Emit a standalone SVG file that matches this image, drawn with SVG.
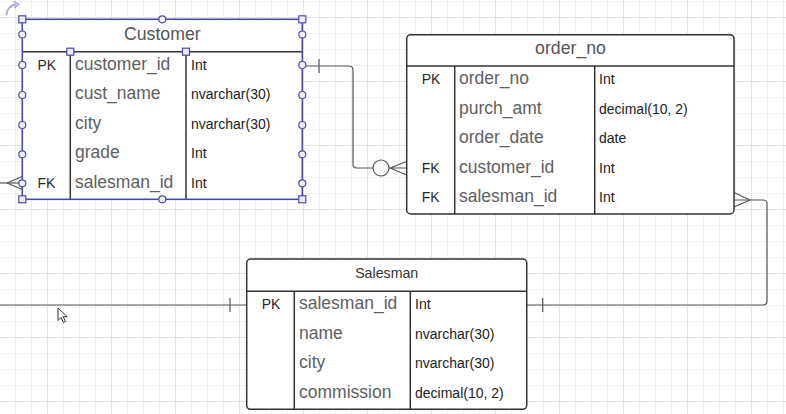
<svg xmlns="http://www.w3.org/2000/svg" width="786" height="414" viewBox="0 0 786 414">
<defs>
<pattern id="grid" x="47" y="17" width="64" height="64" patternUnits="userSpaceOnUse">
<rect x="0" y="0" width="64" height="64" fill="#ffffff"/>
<rect x="16" y="0" width="1" height="64" fill="#f0f0f0"/>
<rect x="32" y="0" width="1" height="64" fill="#f0f0f0"/>
<rect x="48" y="0" width="1" height="64" fill="#f0f0f0"/>
<rect x="0" y="16" width="64" height="1" fill="#f0f0f0"/>
<rect x="0" y="32" width="64" height="1" fill="#f0f0f0"/>
<rect x="0" y="48" width="64" height="1" fill="#f0f0f0"/>
<rect x="0" y="0" width="1" height="64" fill="#e4e4e4"/>
<rect x="0" y="0" width="64" height="1" fill="#e4e4e4"/>
</pattern>
<style>
.tbl{fill:#ffffff;stroke:#333333;stroke-width:1.5}
.div{stroke:#333333;stroke-width:1.5;fill:none}
.title{font-family:"Liberation Sans",Arial,sans-serif;font-size:17.7px;fill:#555555}
.stitle{font-family:"Liberation Sans",Arial,sans-serif;font-size:14.2px;fill:#333333}
.key{font-family:"Liberation Sans",Arial,sans-serif;font-size:14px;fill:#2a2a2a}
.fld{font-family:"Liberation Sans",Arial,sans-serif;font-size:17.5px;fill:#606060}
.typ{font-family:"Liberation Sans",Arial,sans-serif;font-size:14px;fill:#222222}
.conn{fill:none;stroke:#555555;stroke-width:1.2}
.sel{fill:none;stroke:#4b4ba6;stroke-width:1.6}
.hc{fill:#f2f2fb;stroke:#4b4ba6;stroke-width:1.2}
.hs{fill:#ececf6;stroke:#4b4ba6;stroke-width:1.2}
</style>
</defs>
<rect x="0" y="0" width="786" height="414" fill="url(#grid)"/>

<g id="connectors">
<!-- Customer.salesman_id -> Salesman.salesman_id (route goes off-canvas to the left) -->
<path class="conn" d="M22.3,183 H0"/>
<path class="conn" d="M7,183 L22.3,176.5 M7,183 L22.3,189.5"/>
<path class="conn" d="M0,305 H246.7"/>
<path class="conn" d="M230,298 V312"/>
<!-- Customer.customer_id -> order_no.customer_id -->
<path class="conn" d="M302.3,66 H349 Q353,66 353,70 V164 Q353,168 357,168 H373"/>
<circle class="conn" cx="381" cy="168" r="8"/>
<path class="conn" d="M389,168 H406.7 M390,168 L406.7,161.5 M390,168 L406.7,175"/>
<path class="conn" d="M319,59 V73"/>
<!-- order_no.salesman_id -> Salesman.salesman_id -->
<path class="conn" d="M734,200 H763 Q767,200 767,204 V301 Q767,305 763,305 H526.7"/>
<path class="conn" d="M750,200 L734,192.5 M750,200 L734,207"/>
<path class="conn" d="M542.7,298 V312"/>
</g>

<g id="customer">
<rect x="22.3" y="19.3" width="280" height="180" fill="#ffffff"/>
<line class="div" x1="22.3" y1="51.7" x2="302.3" y2="51.7"/>
<line class="div" x1="70.3" y1="51.7" x2="70.3" y2="199.3"/>
<line class="div" x1="186" y1="51.7" x2="186" y2="199.3"/>
<rect class="sel" x="22.3" y="19.3" width="280" height="180"/>
<text class="title" x="162.3" y="39.6" text-anchor="middle">Customer</text>
<text class="key" x="37.5" y="69.7">PK</text>
<text class="fld" x="75" y="69.7">customer_id</text>
<text class="typ" x="191" y="69.7">Int</text>
<text class="fld" x="75" y="99.2">cust_name</text>
<text class="typ" x="191" y="99.2">nvarchar(30)</text>
<text class="fld" x="75" y="128.7">city</text>
<text class="typ" x="191" y="128.7">nvarchar(30)</text>
<text class="fld" x="75" y="158.2">grade</text>
<text class="typ" x="191" y="158.2">Int</text>
<text class="key" x="37.5" y="187.7">FK</text>
<text class="fld" x="75" y="187.7">salesman_id</text>
<text class="typ" x="191" y="187.7">Int</text>
<!-- selection handles -->
<rect class="hs" x="18.8" y="15.8" width="7" height="7"/>
<rect class="hs" x="298.8" y="15.8" width="7" height="7"/>
<rect class="hs" x="18.8" y="195.8" width="7" height="7"/>
<rect class="hs" x="298.8" y="195.8" width="7" height="7"/>
<rect class="hs" x="66.8" y="48.2" width="7" height="7"/>
<rect class="hs" x="182.5" y="48.2" width="7" height="7"/>
<circle class="hc" cx="162.3" cy="19.3" r="3.5"/>
<circle class="hc" cx="162.3" cy="199.3" r="3.5"/>
<circle class="hc" cx="22.3" cy="34.5" r="3.5"/>
<circle class="hc" cx="22.3" cy="65" r="3.5"/>
<circle class="hc" cx="22.3" cy="95" r="3.5"/>
<circle class="hc" cx="22.3" cy="125" r="3.5"/>
<circle class="hc" cx="22.3" cy="154.3" r="3.5"/>
<circle class="hc" cx="22.3" cy="183.3" r="3.5"/>
<circle class="hc" cx="302.3" cy="34.5" r="3.5"/>
<circle class="hc" cx="302.3" cy="65" r="3.5"/>
<circle class="hc" cx="302.3" cy="95" r="3.5"/>
<circle class="hc" cx="302.3" cy="125" r="3.5"/>
<circle class="hc" cx="302.3" cy="154.3" r="3.5"/>
<circle class="hc" cx="302.3" cy="183.3" r="3.5"/>
<!-- rotate handle -->
<path d="M6.5,15.5 Q7,6 16,4.5" fill="none" stroke="#aaaadd" stroke-width="1.8"/>
<path d="M13.5,1.5 L18.5,4.3 L14.5,8" fill="none" stroke="#aaaadd" stroke-width="1.8"/>
</g>

<g id="order_no">
<rect class="tbl" x="406.7" y="34.7" width="327.3" height="179.3" rx="4"/>
<line class="div" x1="406.7" y1="66" x2="734" y2="66"/>
<line class="div" x1="454.7" y1="66" x2="454.7" y2="214"/>
<line class="div" x1="594.7" y1="66" x2="594.7" y2="214"/>
<text class="title" x="570.5" y="54" text-anchor="middle">order_no</text>
<text class="key" x="421.7" y="84">PK</text>
<text class="fld" x="459" y="84">order_no</text>
<text class="typ" x="599" y="84">Int</text>
<text class="fld" x="459" y="113.6">purch_amt</text>
<text class="typ" x="599" y="113.6">decimal(10, 2)</text>
<text class="fld" x="459" y="143.2">order_date</text>
<text class="typ" x="599" y="143.2">date</text>
<text class="key" x="421.7" y="172.8">FK</text>
<text class="fld" x="459" y="172.8">customer_id</text>
<text class="typ" x="599" y="172.8">Int</text>
<text class="key" x="421.7" y="202.4">FK</text>
<text class="fld" x="459" y="202.4">salesman_id</text>
<text class="typ" x="599" y="202.4">Int</text>
</g>

<g id="salesman">
<rect class="tbl" x="246.7" y="259" width="280" height="150.3" rx="4"/>
<line class="div" x1="246.7" y1="291.3" x2="526.7" y2="291.3"/>
<line class="div" x1="294.3" y1="291.3" x2="294.3" y2="409.3"/>
<line class="div" x1="410.3" y1="291.3" x2="410.3" y2="409.3"/>
<text class="stitle" x="386.7" y="278.3" text-anchor="middle">Salesman</text>
<text class="key" x="261.7" y="309.3">PK</text>
<text class="fld" x="299" y="309.3">salesman_id</text>
<text class="typ" x="415" y="309.3">Int</text>
<text class="fld" x="299" y="338.8">name</text>
<text class="typ" x="415" y="338.8">nvarchar(30)</text>
<text class="fld" x="299" y="368.3">city</text>
<text class="typ" x="415" y="368.3">nvarchar(30)</text>
<text class="fld" x="299" y="397.8">commission</text>
<text class="typ" x="415" y="397.8">decimal(10, 2)</text>
</g>

<path d="M58,308 L58,320.5 L61,317.5 L63.5,322.5 L65.5,321.5 L63.2,316.7 L67.2,316.7 Z" fill="#ffffff" stroke="#333333" stroke-width="1"/>
</svg>
